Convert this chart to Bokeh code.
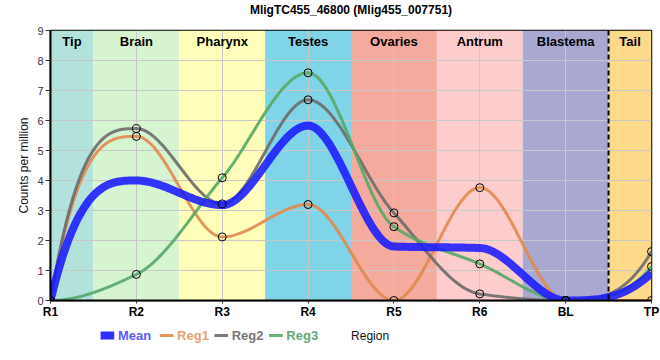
import numpy as np
from bokeh.plotting import figure
from bokeh.layouts import column
from bokeh.models import Range1d, FixedTicker, Span, ColumnDataSource
from bokeh.core.properties import value
from bokeh.embed import file_html
from bokeh.resources import INLINE

# ---------------- data ----------------
title_text = "MligTC455_46800 (Mlig455_007751)"
categories = ["R1", "R2", "R3", "R4", "R5", "R6", "BL", "TP"]
mean_vals = [0.0, 4.00, 3.18, 5.83, 1.80, 1.75, 0.0, 0.92]
reg1_vals = [0.0, 5.47, 2.12, 3.20, 0.0, 3.76, 0.0, 0.0]
reg2_vals = [0.0, 5.73, 3.22, 6.69, 2.92, 0.22, 0.0, 1.63]
reg3_vals = [0.0, 0.87, 4.09, 7.59, 2.46, 1.22, 0.0, 1.13]

series_names = ["Mean", "Reg1", "Reg2", "Reg3"]
series_colors = ["#1a1aff", "#e08b4f", "#6b6b6b", "#55a868"]
legend_text_colors = ["#5a5aff", "#e8a074", "#767676", "#66aa78"]

band_names = ["Tip", "Brain", "Pharynx", "Testes", "Ovaries", "Antrum", "Blastema", "Tail"]
band_left = [0.0, 0.5, 1.5, 2.5, 3.5, 4.5, 5.5, 6.5]
band_right = [0.5, 1.5, 2.5, 3.5, 4.5, 5.5, 6.5, 7.0]
band_colors = ["#b3e2dd", "#d7f4d0", "#ffffbb", "#80d4e8",
               "#f4aa9c", "#fdcccc", "#a8a8d0", "#fdd98c"]
tail_boundary = 6.5

FONT = "Liberation Sans"
W = 660


def smooth(xs, ys, n=50):
    x = np.asarray(xs, float)
    y = np.asarray(ys, float)
    h = np.diff(x)
    d = np.diff(y) / h
    m = np.zeros(len(y))
    for k in range(1, len(y) - 1):
        if d[k - 1] * d[k] > 0:
            w1 = 2 * h[k] + h[k - 1]
            w2 = h[k] + 2 * h[k - 1]
            m[k] = (w1 + w2) / (w1 / d[k - 1] + w2 / d[k])

    def end_slope(a, b):
        s = 3 * a - b
        if s * a <= 0:
            return 0.0
        if a * b < 0 and abs(s) > 3 * abs(a):
            return 3 * a
        return s

    m[0] = end_slope(d[0], d[1])
    m[-1] = end_slope(d[-1], d[-2])
    px, py = [], []
    for k in range(len(y) - 1):
        t = np.linspace(0, 1, n, endpoint=(k == len(y) - 2))
        h00 = 2 * t**3 - 3 * t**2 + 1
        h10 = t**3 - 2 * t**2 + t
        h01 = -2 * t**3 + 3 * t**2
        h11 = t**3 - t**2
        px.extend(x[k] + t * h[k])
        py.extend(h00 * y[k] + h10 * h[k] * m[k] + h01 * y[k + 1] + h11 * h[k] * m[k + 1])
    return px, py


def strip_figure(height):
    f = figure(width=W, height=height, output_backend="svg", toolbar_location=None,
               x_range=Range1d(0, W), y_range=Range1d(0, height),
               min_border_left=0, min_border_right=0,
               min_border_top=0, min_border_bottom=0)
    f.axis.visible = False
    f.grid.visible = False
    f.outline_line_color = None
    f.background_fill_color = "white"
    f.border_fill_color = "white"
    return f


# ---------------- title strip ----------------
head = strip_figure(20)
head.text(x=[W / 2], y=[10.5], text=[title_text], text_baseline="middle",
          text_align="center", text_font=value(FONT), text_font_size="12px",
          text_font_style="bold", text_color="black")

# ---------------- main chart ----------------
xs = list(range(len(categories)))

p = figure(width=W, height=304, output_backend="svg", toolbar_location=None,
           x_range=Range1d(0, len(categories) - 1), y_range=Range1d(0, 9),
           min_border_left=50, min_border_right=9, min_border_top=10, min_border_bottom=24)
p.background_fill_color = "white"
p.border_fill_color = "white"
p.outline_line_color = "black"
p.outline_line_width = 1.5

# background bands
band_src = ColumnDataSource(dict(left=band_left, right=band_right, color=band_colors,
                                 name=band_names,
                                 cx=[(a + b) / 2 for a, b in zip(band_left, band_right)]))
p.quad(left="left", right="right", bottom=0, top=9, fill_color="color", line_color=None,
       source=band_src, level="image")

# grid
p.xgrid.ticker = FixedTicker(ticks=xs)
p.ygrid.ticker = FixedTicker(ticks=list(range(10)))
for g in (p.xgrid, p.ygrid):
    g.grid_line_color = "#c8c8c8"
    g.grid_line_width = 1

# dashed tail boundary
p.add_layout(Span(location=tail_boundary, dimension="height", line_color="black",
                  line_width=2, line_dash="5 3"))

# band labels
p.text(x="cx", y=8.62, text="name", source=band_src, text_align="center",
       text_baseline="middle", text_font=value(FONT), text_font_size="13px",
       text_font_style="bold", text_color="black")

# lines
all_vals = [mean_vals, reg1_vals, reg2_vals, reg3_vals]
for vals, col in zip(all_vals[1:], series_colors[1:]):
    sx, sy = smooth(xs, vals)
    p.line(sx, sy, line_color=col, line_width=3, line_alpha=0.9)
mx, my = smooth(xs, mean_vals)
p.line(mx, my, line_color=series_colors[0], line_width=8, line_alpha=0.88)

for vals in all_vals[1:]:
    p.scatter(xs, vals, size=8, fill_alpha=0, line_color="black", line_width=1)

# axes
p.xaxis.ticker = FixedTicker(ticks=xs)
p.xaxis.major_label_overrides = {i: c for i, c in zip(xs, categories)}
p.yaxis.ticker = FixedTicker(ticks=list(range(10)))
for ax in (p.xaxis, p.yaxis):
    ax.axis_line_color = "black"
    ax.axis_line_width = 2
    ax.major_tick_line_color = "#333333"
    ax.minor_tick_line_color = None
    ax.major_tick_in = 0
    ax.axis_label_text_font = FONT
    ax.axis_label_text_font_size = "12px"
    ax.axis_label_text_font_style = "normal"
    ax.axis_label_text_color = "#111111"
    ax.major_label_text_font = FONT
p.xaxis.major_tick_out = 3
p.xaxis.major_label_standoff = 1
p.xaxis.major_label_text_font_size = "12px"
p.xaxis.major_label_text_font_style = "bold"
p.xaxis.major_label_text_color = "black"
p.yaxis.major_tick_out = 5
p.yaxis.major_label_standoff = 2
p.yaxis.major_label_text_font_size = "11px"
p.yaxis.major_label_text_color = "#333344"
p.yaxis.axis_label = "Counts per million"
p.yaxis.axis_label_standoff = 3

# ---------------- legend strip (legend + x-axis title) ----------------
strip = strip_figure(36)
leg_x = [55, 120, 180, 240]
leg_y = 25
for i, (name, col, tc) in enumerate(zip(series_names, series_colors, legend_text_colors)):
    strip.line([leg_x[i], leg_x[i] + 15], [leg_y, leg_y], line_color=col,
               line_width=8 if i == 0 else 3, line_alpha=0.9)
    strip.text(x=[leg_x[i] + 19], y=[leg_y], text=[name], text_baseline="middle",
               text_align="left", text_font=value(FONT), text_font_size="13px",
               text_font_style="bold", text_color=tc)
strip.text(x=[351], y=[leg_y], text=["Region"], text_baseline="middle",
           text_align="center", text_font=value(FONT), text_font_size="12px",
           text_color="#111111")

layout = column(head, p, strip, spacing=0)
open("out.html", "w").write(file_html(layout, INLINE))
